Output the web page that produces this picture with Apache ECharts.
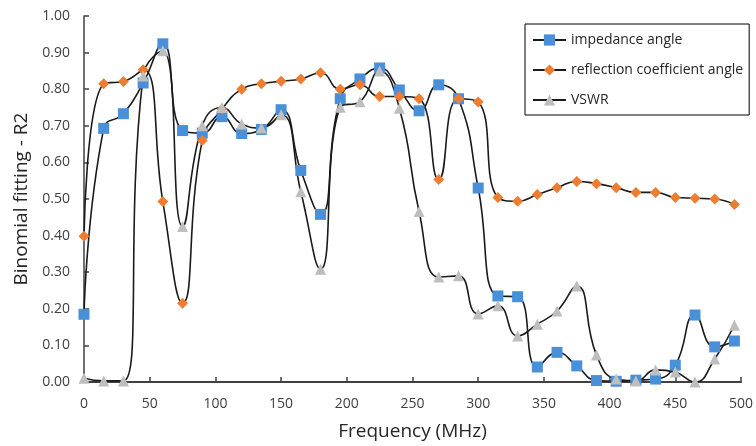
<!DOCTYPE html>
<html>
<head>
<meta charset="utf-8">
<script src="https://cdn.jsdelivr.net/npm/echarts@6/dist/echarts.min.js"></script>
<style>
  html, body { margin: 0; padding: 0; background: #fff; }
  #chart { width: 756px; height: 446px; }
</style>
</head>
<body>
<div id="chart"></div>
<script>
// frequency points (MHz)
var freq = [0, 15, 30, 45, 60, 75, 90, 105, 120, 135, 150, 165, 180, 195, 210, 225, 240,
            255, 270, 285, 300, 315, 330, 345, 360, 375, 390, 405, 420, 435, 450, 465, 480, 495];

// R2 values
var impedanceAngle = [0.185, 0.693, 0.733, 0.817, 0.924, 0.687, 0.68, 0.725, 0.679, 0.69, 0.744, 0.578,
                      0.458, 0.774, 0.828, 0.858, 0.798, 0.741, 0.812, 0.774, 0.53, 0.235, 0.233, 0.041,
                      0.081, 0.044, 0.004, 0.002, 0.005, 0.008, 0.046, 0.183, 0.096, 0.112];
var reflectionAngle = [0.398, 0.815, 0.821, 0.853, 0.493, 0.215, 0.66, 0.745, 0.80, 0.815, 0.822, 0.828,
                       0.845, 0.80, 0.812, 0.78, 0.78, 0.774, 0.553, 0.774, 0.765, 0.504, 0.494, 0.512,
                       0.531, 0.548, 0.542, 0.531, 0.518, 0.518, 0.504, 0.502, 0.50, 0.485];
var vswr = [0.01, 0.003, 0.003, 0.836, 0.905, 0.425, 0.70, 0.75, 0.705, 0.694, 0.73, 0.52,
            0.308, 0.751, 0.766, 0.85, 0.748, 0.466, 0.287, 0.29, 0.186, 0.208, 0.126, 0.158,
            0.194, 0.262, 0.074, 0.008, 0.003, 0.033, 0.027, 0.0, 0.063, 0.155];

var xTicks = { min: 0, max: 500, step: 50 };
var yTicks = { min: 0, max: 1, step: 0.1 };

function pairs(ys) {
	var out = [];
	for (var i = 0; i < freq.length; i++) {
		out.push([freq[i], ys[i]]);
	}
	return out;
}

var font = 'Open Sans';
var axisColor = '#404040';

function makeSeries(name, ys, symbol, color, size) {
	return {
		name: name,
		type: 'line',
		data: pairs(ys),
		smooth: 0.5,
		symbol: symbol,
		symbolSize: size,
		showAllSymbol: true,
		lineStyle: { color: '#1a1a1a', width: 1.6 },
		itemStyle: { color: color },
		emphasis: { disabled: true }
	};
}

var chart = echarts.init(document.getElementById('chart'));

var option = {
	animation: false,
	backgroundColor: '#fff',
	grid: { left: 84, right: 13, top: 16, bottom: 63 },
	legend: {
		orient: 'vertical',
		left: 525,
		top: 24,
		padding: [9, 6, 8, 7],
		borderColor: '#000',
		borderWidth: 1,
		itemWidth: 33,
		itemHeight: 14,
		itemGap: 16,
		textStyle: { fontFamily: font, fontSize: 14, color: '#262626' },
		data: ['impedance angle', 'reflection coefficient angle', 'VSWR']
	},
	xAxis: {
		type: 'value',
		min: xTicks.min,
		max: xTicks.max,
		interval: xTicks.step,
		name: 'Frequency (MHz)',
		nameLocation: 'middle',
		nameGap: 40,
		nameTextStyle: { fontFamily: font, fontSize: 19, color: '#262626' },
		axisLine: { lineStyle: { color: axisColor, width: 2 } },
		axisTick: { show: true, inside: true, length: 5, lineStyle: { color: axisColor, width: 1.5 } },
		axisLabel: { fontFamily: font, fontSize: 14, color: '#404040', margin: 15 },
		splitLine: { show: false }
	},
	yAxis: {
		type: 'value',
		min: yTicks.min,
		max: yTicks.max,
		interval: yTicks.step,
		name: 'Binomial fitting - R2',
		nameLocation: 'middle',
		nameGap: 53,
		nameTextStyle: { fontFamily: font, fontSize: 19, color: '#262626' },
		axisLine: { show: true, lineStyle: { color: axisColor, width: 1.5 } },
		axisTick: { show: true, inside: true, length: 5, lineStyle: { color: axisColor, width: 1.5 } },
		axisLabel: {
			fontFamily: font, fontSize: 14, color: '#404040', margin: 14,
			formatter: function (v) { return v.toFixed(2); }
		},
		splitLine: { show: false }
	},
	series: [
		makeSeries('impedance angle', impedanceAngle, 'rect', '#4A90D9', 11),
		makeSeries('reflection coefficient angle', reflectionAngle, 'diamond', '#ED7D31', 11),
		makeSeries('VSWR', vswr, 'triangle', '#BEBEBE', 11)
	]
};

chart.setOption(option);
</script>
</body>
</html>
